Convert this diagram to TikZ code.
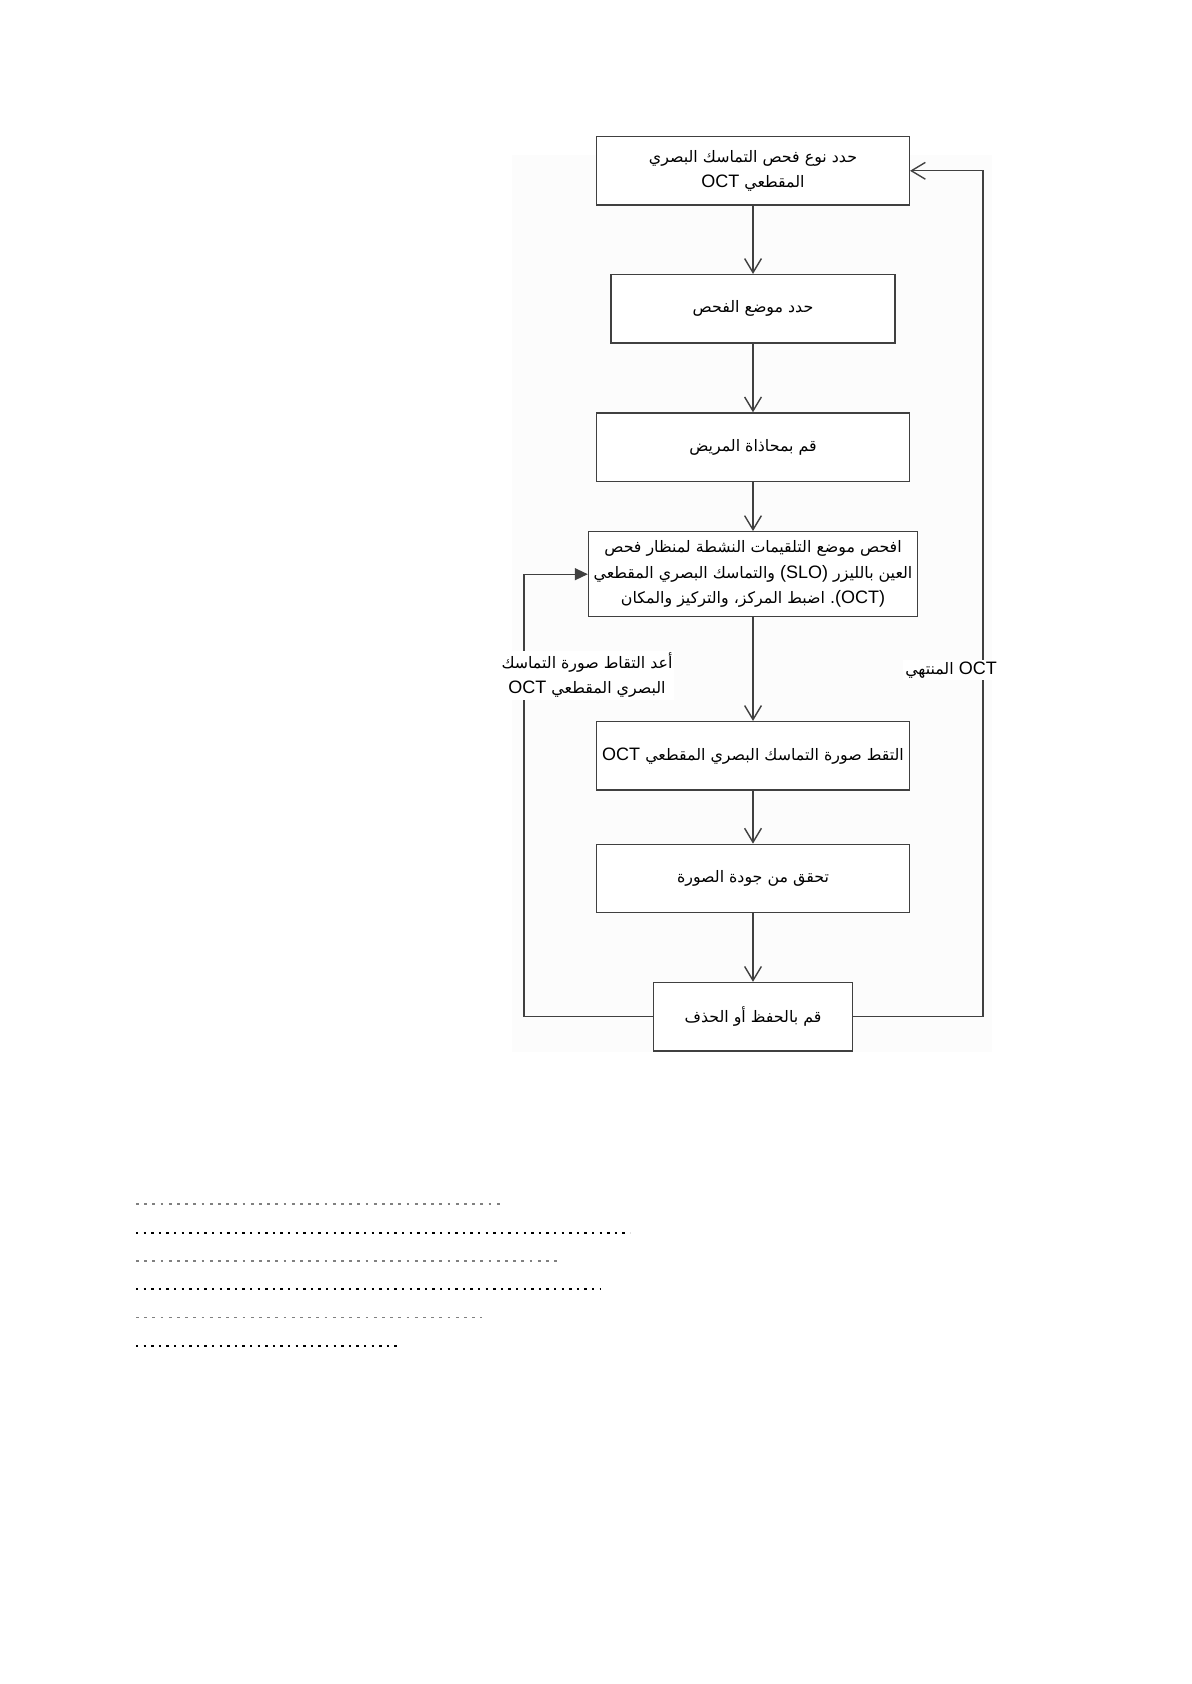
\documentclass[tikz,border=0pt]{standalone}
\usepackage{fontspec}
\setmainfont{Liberation Sans}
\newfontfamily\arabicfont[Script=Arabic,Scale=0.88]{DejaVu Sans}
\TeXXeTstate=1
\usetikzlibrary{arrows.meta}
\definecolor{linegray}{HTML}{404040}
\definecolor{paper}{HTML}{FCFCFC}
\newcommand{\ar}[1]{{\arabicfont\beginR #1\endR}}
\newcommand{\ltr}[1]{{\normalfont\beginL #1\endL}}

\begin{document}
\begin{tikzpicture}[x=0.5pt,y=0.5pt,line join=miter,>={Straight Barb[length=7pt,width=8.4pt]},
  every node/.style={inner sep=1pt},
  stepbox/.style={draw=linegray,line width=0.7pt,fill=white,minimum width=156.3pt,minimum height=34.2pt,
    align=center,font=\fontsize{9}{12.8}\selectfont},
  flow/.style={->,draw=linegray,line width=0.7pt},
  retake/.style={-{Triangle[length=6.5pt,width=6pt]},draw=linegray,line width=0.7pt},
  note/.style={fill=white,align=center,font=\fontsize{9}{12.5}\selectfont},
  dashrow/.style={draw=gray,line width=0.6pt,dash pattern=on 1.4pt off 2.7pt},
  dotrow/.style={draw=black,line width=1.2pt,dash pattern=on 1.2pt off 2.6pt}]
  \useasboundingbox (0,0) rectangle (1191,-1684);
  \fill[paper] (512,-155) rectangle (992,-1052);
  % steps
  \node[stepbox] (type) at (753,-170.8) {\ar{حدد نوع فحص التماسك البصري}\\\ar{المقطعي \ltr{OCT}}};
  \node[stepbox,minimum width=142pt] (place) at (753,-308.8) {\ar{حدد موضع الفحص}};
  \node[stepbox] (align) at (753,-447.2) {\ar{قم بمحاذاة المريض}};
  \node[stepbox,minimum width=164.5pt,minimum height=42.5pt] (adjust) at (753,-574.2)
    {\ar{افحص موضع التلقيمات النشطة لمنظار فحص}\\\ar{العين بالليزر \ltr{(SLO)} والتماسك البصري المقطعي}\\\ar{\ltr{(OCT)}. اضبط المركز، والتركيز والمكان}};
  \node[stepbox] (capture) at (753,-755.8) {\ar{التقط صورة التماسك البصري المقطعي \ltr{OCT}}};
  \node[stepbox] (quality) at (753,-878.5) {\ar{تحقق من جودة الصورة}};
  \node[stepbox,minimum width=99.7pt] (save) at (753,-1016.7) {\ar{قم بالحفظ أو الحذف}};
  \coordinate (lcorner) at (524,-1016.7);
  \coordinate (rcorner) at (983,-1016.7);
  % main flow
  \draw[flow] (type) -- (place);
  \draw[flow] (place) -- (align);
  \draw[flow] (align) -- (adjust);
  \draw[flow] (adjust) -- (capture);
  \draw[flow] (capture) -- (quality);
  \draw[flow] (quality) -- (save);
  % loops back
  \draw[retake] (save.west) -- (lcorner) |- (adjust.west);
  \draw[flow] (save.east) -- (rcorner) |- (type.east);
  \node[note] (redo) at (587,-675.5) {\ar{أعد التقاط صورة التماسك}\\\ar{البصري المقطعي \ltr{OCT}}};
  \node[note] (done) at (951,-670) {\ar{\ltr{OCT} المنتهي}};
  % blank rows
  \draw[dashrow] (136,-1204) -- (503,-1204);
  \draw[dotrow] (136,-1232.7) -- (630,-1232.7);
  \draw[dashrow] (136,-1261) -- (559,-1261);
  \draw[dotrow] (136,-1289) -- (601,-1289);
  \draw[dashrow] (136,-1317.7) -- (482,-1317.7);
  \draw[dotrow] (136,-1346) -- (398,-1346);
\end{tikzpicture}
\end{document}
